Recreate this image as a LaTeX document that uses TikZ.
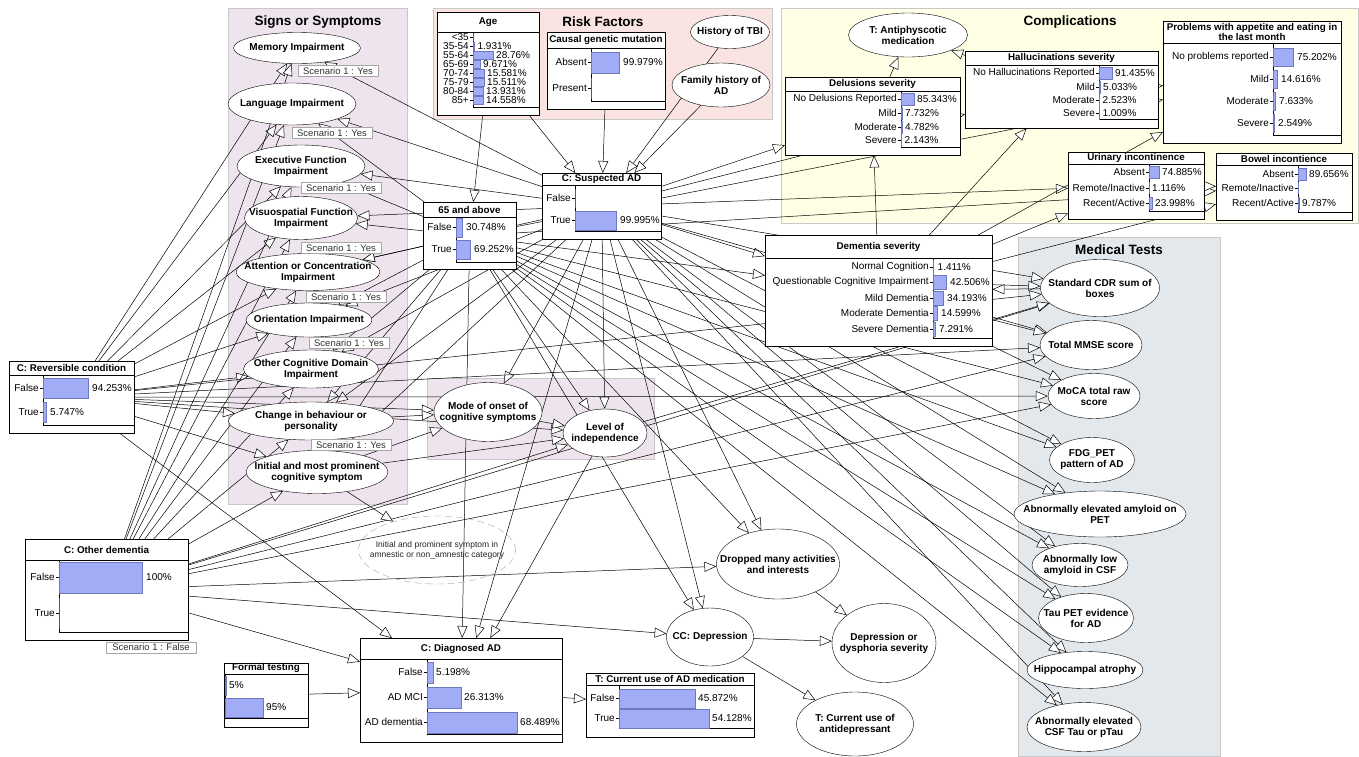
\documentclass[tikz,border=0pt]{standalone}
\usepackage{fontspec}
\setmainfont{Liberation Sans}
\usetikzlibrary{shapes.geometric,arrows.meta}
\pgfdeclarelayer{bg}
\pgfdeclarelayer{links}
\pgfsetlayers{bg,links,main}
\definecolor{symbg}{RGB}{238,228,238}
\definecolor{riskbg}{RGB}{249,228,226}
\definecolor{compbg}{RGB}{255,255,230}
\definecolor{testbg}{RGB}{227,232,236}
\definecolor{barfill}{RGB}{162,172,246}
\definecolor{barline}{RGB}{110,120,190}
\definecolor{regline}{RGB}{200,200,200}

\begin{document}
\begin{tikzpicture}[x=1pt,y=-1pt,line width=.6pt,
	ell/.style 2 args={ellipse,draw,fill=white,minimum width=#1,minimum height=#2,inner sep=0pt},
	etxt/.style={font=\bfseries\fontsize{10}{11}\selectfont,align=center,inner sep=0pt},
	tbl/.style={draw,fill=white,inner sep=0pt,anchor=north west},
	ttl/.style={font=\bfseries\fontsize{9.8}{10.5}\selectfont,align=center,inner sep=0pt},
	lab/.style={font=\fontsize{10}{11}\selectfont,inner sep=0pt,anchor=east},
	val/.style={font=\fontsize{10}{11}\selectfont,inner sep=0pt,anchor=west},
	bar/.style={fill=barfill,draw=barline,line width=.5pt},
	scen/.style={draw=black!35,fill=white,inner sep=0pt,minimum width=80,minimum height=11,font=\fontsize{9.5}{10}\selectfont,text=black!80},
	note/.style={font=\fontsize{8.5}{10}\selectfont,align=center,text=black!85,inner sep=0pt},
	region/.style={fill=#1,draw=regline},
	head/.style={font=\bfseries\fontsize{13.5}{15}\selectfont,inner sep=0pt},
	arr/.style={-{Triangle[length=12pt,width=10pt,fill=white]},line width=.5pt}]
	\useasboundingbox (0,0) rectangle (1359,756);
	
	%REGIONS
	\begin{pgfonlayer}{bg}
	\fill[white] (0,0) rectangle (1359,756);
	\filldraw[region=symbg] (228,8) rectangle (407,504);
	\filldraw[region=riskbg] (433,8) rectangle (772,119);
	\filldraw[region=compbg] (781,8) rectangle (1358,223);
	\filldraw[region=testbg] (1018,237) rectangle (1220,756);
	\filldraw[region=symbg] (427,378) rectangle (654,459);
	\end{pgfonlayer}
	\node[head] (SymHead) at (318,22) {Signs or Symptoms};
	\node[head] (RiskHead) at (603,22) {Risk Factors};
	\node[head] (CompHead) at (1070,22) {Complications};
	\node[head] (TestHead) at (1119,250) {Medical Tests};
	
	%TABLES
	\node[tbl,minimum width=102,minimum height=103] (Age) at (437,12) {};
	\node[ttl] (Age-t) at (488,22) {Age};
	\draw (437,32)--(539,32) (473,32)|-(539,107);
	\foreach \y/\l/\b/\v in {37/<35/0/,46/35-54/1.4/1.931\%,55/55-64/20/28.76\%,64/65-69/7/9.671\%,73/70-74/11/15.581\%,82/75-79/11/15.511\%,91/80-84/10/13.931\%,100/85+/10/14.558\%}
		{\draw (470,\y)--(473,\y); \node[lab] (Age-l\y) at (469,\y) {\l};
		 \filldraw[bar] (473,\y-4) rectangle +(\b,8); \node[val] (Age-v\y) at (476+\b,\y) {\v};}
	
	\node[tbl,minimum width=118,minimum height=77] (Genetic) at (547,32) {};
	\node[ttl] (Genetic-t) at (606,40) {Causal genetic mutation};
	\draw (547,48)--(665,48) (591,48)|-(665,101);
	\foreach \y/\l/\b/\v in {62/Absent/28/99.979\%,88/Present/0/}
		{\draw (588,\y)--(591,\y); \node[lab] (Genetic-l\y) at (587,\y) {\l};
		 \filldraw[bar] (591,\y-10) rectangle +(\b,21); \node[val] (Genetic-v\y) at (595+\b,\y) {\v};}
	
	\node[tbl,minimum width=93,minimum height=67] (Over65) at (423,202) {};
	\node[ttl] (Over65-t) at (469.5,209.5) {65 and above};
	\draw (423,217)--(516,217) (456,217)|-(516,262);
	\foreach \y/\l/\b/\v in {227/False/6/30.748\%,249/True/14/69.252\%}
		{\draw (453,\y)--(456,\y); \node[lab] (Over65-l\y) at (452,\y) {\l};
		 \filldraw[bar] (456,\y-9) rectangle +(\b,19); \node[val] (Over65-v\y) at (460+\b,\y) {\v};}
	
	\node[tbl,minimum width=119,minimum height=66] (Suspected) at (542,173) {};
	\node[ttl] (Suspected-t) at (601.5,179) {C: Suspected AD};
	\draw (542,185)--(661,185) (575,185)|-(661,231);
	\foreach \y/\l/\b/\v in {198/False/0/,220/True/41/99.995\%}
		{\draw (572,\y)--(575,\y); \node[lab] (Suspected-l\y) at (571,\y) {\l};
		 \filldraw[bar] (575,\y-9) rectangle +(\b,19); \node[val] (Suspected-v\y) at (579+\b,\y) {\v};}
	
	\node[tbl,minimum width=125,minimum height=72] (Reversible) at (9,361) {};
	\node[ttl] (Reversible-t) at (71.5,368) {C: Reversible condition};
	\draw (9,375)--(134,375) (43,375)|-(134,425);
	\foreach \y/\l/\b/\v in {388/False/45/94.253\%,412/True/3/5.747\%}
		{\draw (40,\y)--(43,\y); \node[lab] (Reversible-l\y) at (39,\y) {\l};
		 \filldraw[bar] (43,\y-10) rectangle +(\b,20); \node[val] (Reversible-v\y) at (47+\b,\y) {\v};}
	
	\node[tbl,minimum width=163,minimum height=101] (OtherDem) at (25,539) {};
	\node[ttl] (OtherDem-t) at (106.5,549.5) {C: Other dementia};
	\draw (25,560)--(188,560) (59,560)|-(188,632);
	\foreach \y/\l/\b/\v in {577/False/83/100\%,613/True/0/}
		{\draw (56,\y)--(59,\y); \node[lab] (OtherDem-l\y) at (55,\y) {\l};
		 \filldraw[bar] (59,\y-15) rectangle +(\b,31); \node[val] (OtherDem-v\y) at (63+\b,\y) {\v};}
	\node[scen,minimum width=90] (ScenF) at (151,647.5) {Scenario 1 : False};
	
	\node[tbl,minimum width=84,minimum height=64] (Formal) at (224,663) {};
	\node[ttl] (Formal-t) at (266,668) {Formal testing};
	\draw (224,674)--(308,674) (225,674)|-(308,718);
	\foreach \y/\b/\v in {685/1/5\%,707/38/95\%}
		{\filldraw[bar] (225,\y-9) rectangle +(\b,19); \node[val] (Formal-v\y) at (228+\b,\y) {\v};}
	
	\node[tbl,minimum width=202,minimum height=104] (Diagnosed) at (360,638) {};
	\node[ttl] (Diagnosed-t) at (461,648.5) {C: Diagnosed AD};
	\draw (360,659)--(562,659) (427,659)|-(562,734);
	\foreach \y/\l/\b/\v in {672/False/6/5.198\%,697/AD MCI/34/26.313\%,722/AD dementia/90/68.489\%}
		{\draw (424,\y)--(427,\y); \node[lab] (Diagnosed-l\y) at (423,\y) {\l};
		 \filldraw[bar] (427,\y-10) rectangle +(\b,21); \node[val] (Diagnosed-v\y) at (430+\b,\y) {\v};}
	
	\node[tbl,minimum width=168,minimum height=64] (ADMed) at (586,673) {};
	\node[ttl] (ADMed-t) at (670,679) {T: Current use of AD medication};
	\draw (586,685)--(754,685) (619,685)|-(754,728);
	\foreach \y/\l/\b/\v in {698/False/76/45.872\%,718/True/90/54.128\%}
		{\draw (616,\y)--(619,\y); \node[lab] (ADMed-l\y) at (615,\y) {\l};
		 \filldraw[bar] (619,\y-9) rectangle +(\b,19); \node[val] (ADMed-v\y) at (622+\b,\y) {\v};}
	
	\node[tbl,minimum width=175,minimum height=78] (Delusions) at (785,77) {};
	\node[ttl] (Delusions-t) at (872.5,84) {Delusions severity};
	\draw (785,91)--(960,91) (901,91)|-(960,147);
	\foreach \y/\l/\b/\v in {99/No Delusions Reported/13/85.343\%,113/Mild/1/7.732\%,127/Moderate/1/4.782\%,140/Severe/0.5/2.143\%}
		{\draw (898,\y)--(901,\y); \node[lab] (Delusions-l\y) at (897,\y) {\l};
		 \filldraw[bar] (901,\y-6) rectangle +(\b,12); \node[val] (Delusions-v\y) at (904+\b,\y) {\v};}
	
	\node[tbl,minimum width=193,minimum height=77] (Halluc) at (965,51) {};
	\node[ttl] (Halluc-t) at (1061.5,58) {Hallucinations severity};
	\draw (965,65)--(1158,65) (1099,65)|-(1158,119);
	\foreach \y/\l/\b/\v in {73/No Hallucinations Reported/13/91.435\%,87/Mild/1/5.033\%,100/Moderate/0.5/2.523\%,113/Severe/0.3/1.009\%}
		{\draw (1096,\y)--(1099,\y); \node[lab] (Halluc-l\y) at (1095,\y) {\l};
		 \filldraw[bar] (1099,\y-6) rectangle +(\b,12); \node[val] (Halluc-v\y) at (1102+\b,\y) {\v};}
	
	\node[tbl,minimum width=178,minimum height=122] (Appetite) at (1163,21) {};
	\node[ttl] (Appetite-t) at (1252,32) {Problems with appetite and eating in\\the last month};
	\draw (1163,43)--(1341,43) (1273,43)|-(1341,135);
	\foreach \y/\l/\b/\v in {57/No problems reported/20/75.202\%,79/Mild/4/14.616\%,101/Moderate/2/7.633\%,123/Severe/1/2.549\%}
		{\draw (1270,\y)--(1273,\y); \node[lab] (Appetite-l\y) at (1269,\y) {\l};
		 \filldraw[bar] (1273,\y-9) rectangle +(\b,18); \node[val] (Appetite-v\y) at (1277+\b,\y) {\v};}
	
	\node[tbl,minimum width=136,minimum height=67] (Urinary) at (1068,152) {};
	\node[ttl] (Urinary-t) at (1136,158) {Urinary incontinence};
	\draw (1068,164)--(1204,164) (1149,164)|-(1204,211);
	\foreach \y/\l/\b/\v in {172/Absent/10/74.885\%,188/{Remote/Inactive}/0/1.116\%,203/{Recent/Active}/3/23.998\%}
		{\draw (1146,\y)--(1149,\y); \node[lab] (Urinary-l\y) at (1145,\y) {\l};
		 \filldraw[bar] (1149,\y-6) rectangle +(\b,12); \node[val] (Urinary-v\y) at (1152+\b,\y) {\v};}
	
	\node[tbl,minimum width=136,minimum height=67] (Bowel) at (1216,153) {};
	\node[ttl] (Bowel-t) at (1284,159) {Bowel incontience};
	\draw (1216,165)--(1352,165) (1298,165)|-(1352,212);
	\foreach \y/\l/\b/\v in {174/Absent/8/89.656\%,188/{Remote/Inactive}/0/,203/{Recent/Active}/1/9.787\%}
		{\draw (1295,\y)--(1298,\y); \node[lab] (Bowel-l\y) at (1294,\y) {\l};
		 \filldraw[bar] (1298,\y-6) rectangle +(\b,12); \node[val] (Bowel-v\y) at (1301+\b,\y) {\v};}
	
	\node[tbl,minimum width=227,minimum height=111] (Severity) at (765,235) {};
	\node[ttl] (Severity-t) at (878.5,246.5) {Dementia severity};
	\draw (765,258)--(992,258) (933,258)|-(992,338);
	\foreach \y/\l/\b/\v in {267/Normal Cognition/0.5/1.411\%,282/Questionable Cognitive Impairment/13/42.506\%,298/Mild Dementia/10/34.193\%,313/Moderate Dementia/4/14.599\%,329/Severe Dementia/2/7.291\%}
		{\draw (930,\y)--(933,\y); \node[lab] (Severity-l\y) at (929,\y) {\l};
		 \filldraw[bar] (933,\y-7) rectangle +(\b,14); \node[val] (Severity-v\y) at (937+\b,\y) {\v};}
	
	%ELLIPSES
	\path (297,48) node[ell={127}{31}] (Memory) {} node[etxt] (Memory-t) {Memory Impairment};
	\path (292,104) node[ell={128}{42}] (Language) {} node[etxt] (Language-t) {Language Impairment};
	\path (301,166) node[ell={128}{42}] (Executive) {} node[etxt] (Executive-t) {Executive Function\\Impairment};
	\path (301,218) node[ell={113}{43}] (Visuo) {} node[etxt] (Visuo-t) {Visuospatial Function\\Impairment};
	\path (308,272) node[ell={144}{37}] (Attention) {} node[etxt] (Attention-t) {Attention or Concentration\\Impairment};
	\path (309,320) node[ell={126}{34}] (Orientation) {} node[etxt] (Orientation-t) {Orientation Impairment};
	\path (311,369) node[ell={135}{38}] (OtherCog) {} node[etxt] (OtherCog-t) {Other Cognitive Domain\\Impairment};
	\path (311,421) node[ell={165}{38}] (Behaviour) {} node[etxt] (Behaviour-t) {Change in behaviour or\\personality};
	\path (317,472) node[ell={142}{43}] (Initial) {} node[etxt] (Initial-t) {Initial and most prominent\\cognitive symptom};
	\foreach \x/\y [count=\i] in {338/71,332/133,341/188,341/248,346/297,349/343,351/445}
		\node[scen] (Scen\i) at (\x,\y) {Scenario 1 : Yes};
	
	\path (730,32) node[ell={79}{33}] (TBI) {} node[etxt] (TBI-t) {History of TBI};
	\path (721,85) node[ell={98}{44}] (FamHist) {} node[etxt] (FamHist-t) {Family history of\\AD};
	\path (908,35) node[ell={119}{44}] (Antipsy) {} node[etxt] (Antipsy-t) {T: Antiphyscotic\\medication};
	
	\path (1100,288) node[ell={119}{57}] (CDR) {} node[etxt] (CDR-t) {Standard CDR sum of\\boxes};
	\path (1091,345) node[ell={102}{49}] (MMSE) {} node[etxt] (MMSE-t) {Total MMSE score};
	\path (1094,396) node[ell={92}{45}] (MoCA) {} node[etxt] (MoCA-t) {MoCA total raw\\score};
	\path (1092,460) node[ell={85}{45}] (FDG) {} node[etxt] (FDG-t) {FDG\_PET\\pattern of AD};
	\path (1100,514) node[ell={172}{46}] (AmyPET) {} node[etxt] (AmyPET-t) {Abnormally elevated amyloid on\\PET};
	\path (1080,565) node[ell={96}{43}] (AmyCSF) {} node[etxt] (AmyCSF-t) {Abnormally low\\amyloid in CSF};
	\path (1086,618) node[ell={95}{49}] (TauPET) {} node[etxt] (TauPET-t) {Tau PET evidence\\for AD};
	\path (1085,670) node[ell={116}{37}] (Hippo) {} node[etxt] (Hippo-t) {Hippocampal atrophy};
	\path (1084,727) node[ell={114}{49}] (CSFTau) {} node[etxt] (CSFTau-t) {Abnormally elevated\\CSF Tau or pTau};
	
	\path (488,412) node[ell={108}{59}] (Onset) {} node[etxt] (Onset-t) {Mode of onset of\\cognitive symptoms};
	\path (605,433) node[ell={84}{48}] (Indep) {} node[etxt] (Indep-t) {Level of\\independence};
	\path (437,550) node[ell={157}{68},fill=none,draw=black!35,dash pattern=on 7pt off 4pt] (InitCat) {} node[note] (InitCat-t) {Initial and prominent symptom in\\amnestic or non\_amnestic category};
	\path (778,564) node[ell={123}{70}] (Dropped) {} node[etxt] (Dropped-t) {Dropped many activities\\and interests};
	\path (710,637) node[ell={87}{58}] (Depression) {} node[etxt] (Depression-t) {CC: Depression};
	\path (884,643) node[ell={104}{79}] (DepSev) {} node[etxt] (DepSev-t) {Depression or\\dysphoria severity};
	\path (855,724) node[ell={117}{64}] (Antidep) {} node[etxt] (Antidep-t) {T: Current use of\\antidepressant};
	
	%LINES
	\begin{pgfonlayer}{links}
	\foreach \w in {Memory,Language,Executive,Visuo,Attention,Orientation,OtherCog,Behaviour,Initial,Delusions,Halluc,Urinary,Severity,Onset,Indep,Dropped,Depression,Diagnosed,CDR,MMSE,FDG,AmyPET,AmyCSF,TauPET,Hippo,CSFTau} \draw[arr] (Suspected)--(\w);
	\foreach \w in {Language,Executive,Visuo,Attention,Orientation,OtherCog,Behaviour,Initial,Severity,Indep,Dropped,Depression,Diagnosed,MoCA,FDG,AmyPET,AmyCSF,TauPET,Hippo,CSFTau,Appetite,Bowel} \draw[arr] (Over65)--(\w);
	\foreach \w in {Memory,Language,Executive,Visuo,Attention,Orientation,OtherCog,Behaviour,Initial,Onset,Indep,CDR,MMSE,MoCA,Diagnosed} \draw[arr] (Reversible)--(\w);
	\foreach \w in {Memory,Language,Executive,Visuo,Attention,Orientation,OtherCog,Behaviour,Initial,Indep,Dropped,Depression,Diagnosed,CDR,MMSE,MoCA} \draw[arr] (OtherDem)--(\w);
	\foreach \w in {Delusions,Halluc,Appetite,Urinary,Bowel,MMSE,MoCA} \draw[arr] (Severity)--(\w);
	\draw[arr] ([yshift=6pt]Severity.east)--(CDR);
	\draw[arr] (CDR)--(Severity);
	\foreach \w in {Delusions,Halluc} \draw[arr] (\w)--(Antipsy);
	\draw[arr] (Halluc)--(Appetite);
	\draw[arr] (Urinary)--(Bowel);
	\foreach \w in {Genetic,FamHist,TBI,Age} \draw[arr] (\w)--(Suspected);
	\draw[arr] (Age)--(Over65);
	\draw[arr] (Initial)--(InitCat);
	\foreach \w in {Initial,Behaviour} \draw[arr] (\w)--(Onset);
	\foreach \w in {Onset,Initial} \draw[arr] (\w)--(Indep);
	\draw[arr] (Indep)--(Diagnosed);
	\draw[arr] (Indep)--(CDR);
	\draw[arr] (Formal)--(Diagnosed);
	\draw[arr] (Diagnosed)--(ADMed);
	\foreach \w in {Dropped,Depression} \draw[arr] (\w)--(DepSev);
	\draw[arr] (Depression)--(Antidep);
	\end{pgfonlayer}
\end{tikzpicture}
\end{document}
